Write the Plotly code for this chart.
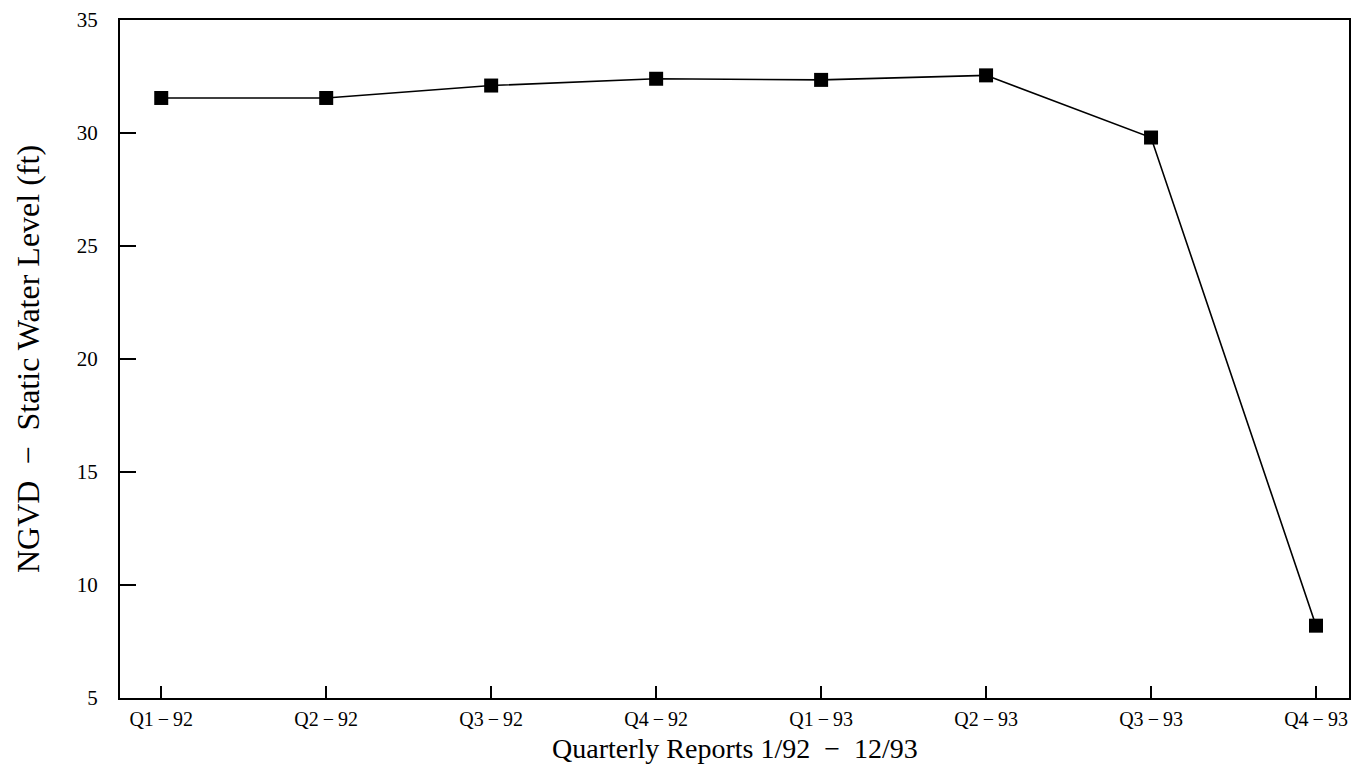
import plotly.graph_objects as go

quarters = ["Q1\u2009−\u200992", "Q2\u2009−\u200992", "Q3\u2009−\u200992", "Q4\u2009−\u200992",
            "Q1\u2009−\u200993", "Q2\u2009−\u200993", "Q3\u2009−\u200993", "Q4\u2009−\u200993"]
water_level = [31.55, 31.55, 32.1, 32.4, 32.35, 32.55, 29.8, 8.2]
y_ticks = [5, 10, 15, 20, 25, 30, 35]
x_title = "Quarterly Reports 1/92  −  12/93"
y_title = "NGVD  −  Static Water Level (ft)"

x_idx = list(range(len(quarters)))

fig = go.Figure()
fig.add_trace(go.Scatter(
    x=x_idx, y=water_level, mode="lines+markers",
    line=dict(color="black", width=1.6),
    marker=dict(symbol="square", size=14, color="black"),
    showlegend=False,
))

font_family = "Liberation Serif, Times New Roman, serif"

fig.update_layout(
    width=1351, height=760,
    margin=dict(l=112, r=10, t=12, b=70),
    paper_bgcolor="white", plot_bgcolor="white",
    font=dict(family=font_family, color="black"),
    xaxis=dict(
        range=[-0.25, 7.2],
        tickvals=x_idx, ticktext=quarters,
        ticks="inside", ticklen=12, tickwidth=1.5, tickcolor="black",
        showline=True, linecolor="black", linewidth=2, mirror=True,
        showgrid=False, zeroline=False,
        tickfont=dict(size=20, family=font_family),
        ticklabelstandoff=2,
        ticklabeloverflow="allow",
        automargin=False,
    ),
    yaxis=dict(
        range=[5, 35],
        tickvals=y_ticks,
        ticks="inside", ticklen=16, tickwidth=1.5, tickcolor="black",
        showline=True, linecolor="black", linewidth=2, mirror=True,
        showgrid=False, zeroline=False,
        tickfont=dict(size=21, family=font_family),
        ticklabelstandoff=16,
        ticklabeloverflow="allow",
        automargin=False,
    ),
    annotations=[
        dict(text=x_title, xref="paper", yref="paper", x=0.5, y=0,
             xanchor="center", yanchor="middle", yshift=-50, showarrow=False,
             font=dict(size=28, family=font_family, color="black")),
        dict(text=y_title, xref="paper", yref="paper", x=0, y=0.5,
             xanchor="center", yanchor="middle", xshift=-92, textangle=-90,
             showarrow=False,
             font=dict(size=32, family=font_family, color="black")),
    ],
)

fig.write_html("out.html")
